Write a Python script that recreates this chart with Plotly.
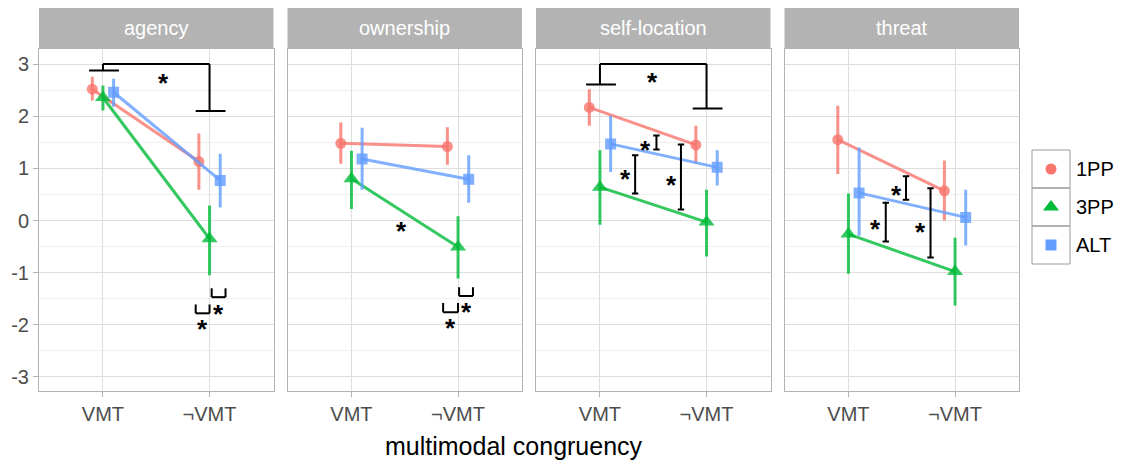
import plotly.graph_objects as go

W, H = 1123, 465
OFF = 8  # default page margin of the browser body
FW, FH = W - OFF, H - OFF

facets = ["agency", "ownership", "self-location", "threat"]
conditions = ["VMT", "¬VMT"]
groups = ["1PP", "3PP", "ALT"]

# mean, upper and lower interval per facet: [VMT, ¬VMT]
mean_1pp = [[2.52, 1.13], [1.48, 1.42], [2.17, 1.45], [1.55, 0.57]]
hi_1pp = [[2.76, 1.67], [1.88, 1.79], [2.52, 1.82], [2.20, 1.15]]
lo_1pp = [[2.30, 0.59], [1.09, 1.07], [1.82, 1.09], [0.89, 0.00]]

mean_3pp = [[2.36, -0.35], [0.80, -0.51], [0.64, -0.03], [-0.26, -0.98]]
hi_3pp = [[2.59, 0.29], [1.34, 0.08], [1.35, 0.59], [0.52, -0.33]]
lo_3pp = [[2.11, -1.05], [0.22, -1.11], [-0.08, -0.69], [-1.02, -1.63]]

mean_alt = [[2.46, 0.77], [1.18, 0.79], [1.47, 1.02], [0.53, 0.06]]
hi_alt = [[2.72, 1.28], [1.78, 1.25], [2.01, 1.35], [1.40, 0.59]]
lo_alt = [[2.18, 0.25], [0.59, 0.34], [0.93, 0.67], [-0.29, -0.48]]

y_ticks = [-3, -2, -1, 0, 1, 2, 3]

# significance markers (data units)
# top brackets: facet, y_top, y_left, y_right, star_x, star_y
sig_top = [(0, 3.0, 2.88, 2.10, 1.57, 2.76), (2, 3.0, 2.61, 2.15, 1.49, 2.78)]
# I-bars: facet, x, y0, y1, star_x, star_y
sig_ibar = [
    (2, 1.53, 1.36, 1.63, 1.43, 1.47),
    (2, 1.33, 0.52, 1.25, 1.24, 0.91),
    (2, 1.76, 0.21, 1.46, 1.67, 0.80),
    (3, 1.54, 0.40, 0.85, 1.45, 0.61),
    (3, 1.35, -0.40, 0.34, 1.25, -0.04),
    (3, 1.77, -0.71, 0.62, 1.68, -0.10),
]
# U-brackets: facet, x0, x1, y_top, y_bottom, star_x, star_y
sig_u = [
    (0, 1.87, 2.00, -1.61, -1.78, 1.935, -1.97),
    (0, 2.02, 2.15, -1.30, -1.47, 2.08, -1.67),
    (1, 1.86, 2.00, -1.58, -1.76, 1.93, -1.95),
    (1, 2.01, 2.14, -1.28, -1.45, 2.08, -1.64),
]
# lone stars: facet, x, y
sig_star = [(1, 1.47, -0.08)]

colors = {"1PP": "248,118,109", "3PP": "0,186,56", "ALT": "97,156,255"}
symbols = {"1PP": "circle", "3PP": "triangle-up", "ALT": "square"}
msize = {"1PP": 11, "3PP": 14, "ALT": 11}
dodge = {"1PP": -0.1, "3PP": 0.0, "ALT": 0.1}
data = {"1PP": (mean_1pp, hi_1pp, lo_1pp), "3PP": (mean_3pp, hi_3pp, lo_3pp),
        "ALT": (mean_alt, hi_alt, lo_alt)}

FONT = "Liberation Sans, Arial, sans-serif"
GREY30 = "#4D4D4D"
GREY70 = "#B3B3B3"

# panel geometry in page pixels
panel_left = [39, 287.5, 536, 784.5]
panel_w = 234.5
panel_top, panel_bot = 49, 391
strip_top = 7

def px(x):
    return (x - OFF) / FW

def py(y):
    return 1 - (y - OFF) / FH

fig = go.Figure()
layout = dict(
    width=FW, height=FH, margin=dict(l=0, r=0, t=0, b=0),
    paper_bgcolor="white", plot_bgcolor="white", showlegend=False,
    font=dict(family=FONT, color=GREY30),
)

shapes = []
annotations = []

for i, f in enumerate(facets):
    ax = "" if i == 0 else str(i + 1)
    xref = "x" + ax
    yref = "y" + ax
    layout["xaxis" + ax] = dict(
        domain=[px(panel_left[i]), px(panel_left[i] + panel_w)],
        range=[0.4, 2.6], tickvals=[1, 2], ticktext=conditions,
        showgrid=True, gridcolor="#DEDEDE", gridwidth=1,
        zeroline=False, showline=True, mirror=True, linecolor=GREY70, linewidth=1,
        ticks="outside", ticklen=5, tickcolor=GREY70,
        tickfont=dict(size=20, color=GREY30, family=FONT), anchor=yref,
    )
    layout["yaxis" + ax] = dict(
        domain=[py(panel_bot), py(panel_top)], range=[-3.27, 3.29],
        tickvals=y_ticks, ticktext=[str(v) for v in y_ticks],
        showticklabels=(i == 0),
        showgrid=True, gridcolor="#DEDEDE", gridwidth=1,
        minor=dict(dtick=0.5, tick0=0.5, showgrid=True, gridcolor="#F0F0F0", gridwidth=1),
        zeroline=False, showline=True, mirror=True, linecolor=GREY70, linewidth=1,
        ticks="outside" if i == 0 else "", ticklen=5, tickcolor=GREY70,
        tickfont=dict(size=20, color=GREY30, family=FONT), anchor=xref,
    )
    if i > 0:
        layout["yaxis" + ax]["matches"] = "y"

    # strip
    shapes.append(dict(type="rect", xref="paper", yref="paper",
                       x0=px(panel_left[i]), x1=px(panel_left[i] + panel_w),
                       y0=py(panel_top), y1=py(strip_top),
                       fillcolor=GREY70, line=dict(width=0), layer="below"))
    annotations.append(dict(xref="paper", yref="paper",
                            x=px(panel_left[i] + panel_w / 2), y=py((strip_top + panel_top) / 2),
                            text=f, showarrow=False, xanchor="center", yanchor="middle",
                            font=dict(size=20, color="white", family=FONT)))

    for g in groups:
        m, hi, lo = data[g]
        xs = [k + 1 + dodge[g] for k in range(len(conditions))]
        ys = m[i]
        up = [h - v for h, v in zip(hi[i], ys)]
        dn = [v - l for v, l in zip(ys, lo[i])]
        c = colors[g]
        fig.add_trace(go.Scatter(
            x=xs, y=ys, mode="lines+markers", name=g, xaxis=xref, yaxis=yref,
            line=dict(color=f"rgba({c},0.8)", width=3),
            marker=dict(symbol=symbols[g], size=msize[g], color=f"rgba({c},0.8)",
                        line=dict(width=0)),
            error_y=dict(type="data", symmetric=False, array=up, arrayminus=dn,
                         color=f"rgba({c},0.8)", thickness=3, width=0),
            hoverinfo="skip",
        ))

def line(xref, yref, x0, y0, x1, y1):
    shapes.append(dict(type="line", xref=xref, yref=yref, x0=x0, y0=y0, x1=x1, y1=y1,
                       line=dict(color="black", width=2)))

def star(xref, yref, x, y):
    annotations.append(dict(xref=xref, yref=yref, x=x, y=y, text="<b>*</b>", showarrow=False,
                            xanchor="center", yanchor="middle", yshift=-6,
                            font=dict(size=26, color="black", family=FONT)))

def refs(i):
    ax = "" if i == 0 else str(i + 1)
    return "x" + ax, "y" + ax

for (i, yt, yl, yr, sx, sy) in sig_top:
    xr, yrf = refs(i)
    line(xr, yrf, 1, yt, 2, yt)
    line(xr, yrf, 1, yt, 1, yl)
    line(xr, yrf, 2, yt, 2, yr)
    line(xr, yrf, 0.87, yl, 1.15, yl)
    line(xr, yrf, 1.87, yr, 2.15, yr)
    star(xr, yrf, sx, sy)

for (i, x, y0, y1, sx, sy) in sig_ibar:
    xr, yrf = refs(i)
    line(xr, yrf, x, y0, x, y1)
    line(xr, yrf, x - 0.03, y0, x + 0.03, y0)
    line(xr, yrf, x - 0.03, y1, x + 0.03, y1)
    star(xr, yrf, sx, sy)

for (i, x0, x1, yt, yb, sx, sy) in sig_u:
    xr, yrf = refs(i)
    line(xr, yrf, x0, yt, x0, yb)
    line(xr, yrf, x1, yt, x1, yb)
    line(xr, yrf, x0, yb, x1, yb)
    star(xr, yrf, sx, sy)

for (i, x, y) in sig_star:
    xr, yrf = refs(i)
    star(xr, yrf, x, y)

# axis title
annotations.append(dict(xref="paper", yref="paper", x=px(514), y=py(446),
                        text="multimodal congruency", showarrow=False,
                        xanchor="center", yanchor="middle",
                        font=dict(size=25, color="black", family=FONT)))

# manual legend
leg_x0, leg_x1 = 1032, 1070
leg_top, key_h = 150, 38
layout["xaxis5"] = dict(domain=[px(leg_x0), px(leg_x1)], range=[0, 1], visible=False,
                        anchor="y5", fixedrange=True)
layout["yaxis5"] = dict(domain=[py(leg_top + key_h * len(groups)), py(leg_top)],
                        range=[len(groups), 0], visible=False, anchor="x5", fixedrange=True)
for k, g in enumerate(groups):
    c = colors[g]
    fig.add_trace(go.Scatter(x=[0.5], y=[k + 0.5], mode="markers", xaxis="x5", yaxis="y5",
                             marker=dict(symbol=symbols[g], size=msize[g], color=f"rgb({c})"),
                             hoverinfo="skip"))
    shapes.append(dict(type="rect", xref="paper", yref="paper",
                       x0=px(leg_x0), x1=px(leg_x1),
                       y0=py(leg_top + key_h * (k + 1)), y1=py(leg_top + key_h * k),
                       line=dict(color="#999999", width=1)))
    annotations.append(dict(xref="paper", yref="paper", x=px(leg_x1 + 4),
                            y=py(leg_top + key_h * (k + 0.5)), text=g, showarrow=False,
                            xanchor="left", yanchor="middle",
                            font=dict(size=20, color="black", family=FONT)))

layout["shapes"] = shapes
layout["annotations"] = annotations
fig.update_layout(**layout)
fig.write_html("out.html")
